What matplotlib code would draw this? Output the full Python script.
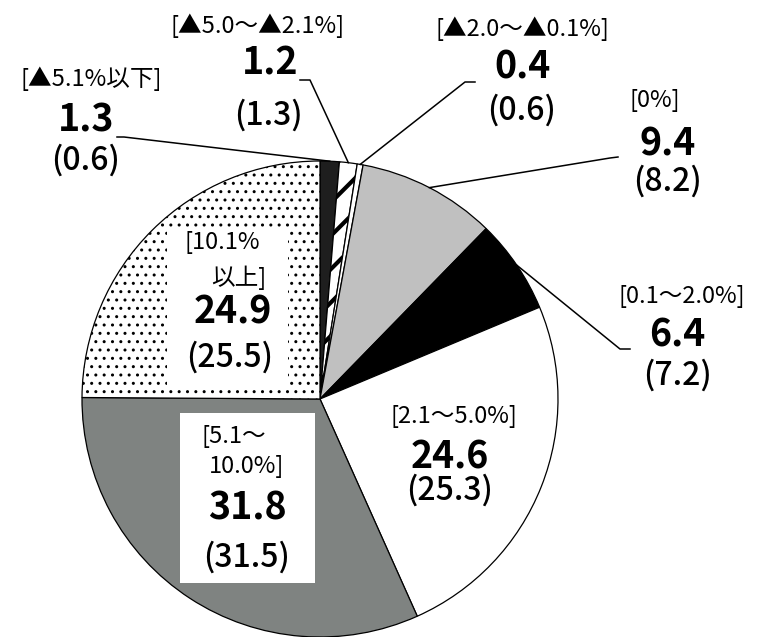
import numpy as np
import matplotlib.pyplot as plt
from matplotlib.patches import Rectangle

plt.rcParams['font.family'] = ['Noto Sans CJK JP', 'DejaVu Sans']
plt.rcParams['hatch.linewidth'] = 1.0

# data (current share, previous share in parentheses)
categories = ['[▲5.1%以下]', '[▲5.0～▲2.1%]', '[▲2.0～▲0.1%]', '[0%]',
              '[0.1～2.0%]', '[2.1～5.0%]', '[5.1～\n10.0%]', '[10.1%\n以上]']
values = [1.3, 1.2, 0.4, 9.4, 6.4, 24.6, 31.8, 24.9]
previous = [0.6, 1.3, 0.6, 8.2, 7.2, 25.3, 31.5, 25.5]

colors = ['#1e1e1e', 'white', 'white', '#c0c0c0', 'black', 'white', '#7f8381', 'white']
hatches = ['', '/', '', '', '', '', '', '..']

W, H = 762, 637
cx, cy, r = 320, H - 399, 238

# label layout in pixel coords (x, y from top)
cat_xy = [[(91, 79)], [(258, 26)], [(522, 29)], [(655, 101)], [(682, 297)],
          [(454, 417)], [(234, 436), (247, 467)], [(222, 243), (239, 278)]]
val_xy = [(86, 120), (270, 63), (523, 67), (668, 144), (677, 335),
          (450, 457), (247, 508), (233, 312)]
prev_xy = [(86, 160), (268, 115), (522, 110), (667, 181), (677, 375),
           (450, 490), (247, 557), (230, 357)]
leader_xy = [[(117, 137), (124, 137)], [(300, 80), (310, 80)],
             [(475, 82), (465, 82)], [(618, 157), (610, 158)],
             [(630, 349), (620, 349)]]
boxes = [(167, 230, 288, 385), (180, 413, 315, 583)]

fig = plt.figure(figsize=(W / 100, H / 100), dpi=100)
ax = fig.add_axes([0, 0, 1, 1])
wedges, _ = ax.pie(values, colors=colors, hatch=hatches, startangle=90,
                   counterclock=False, center=(cx, cy), radius=r,
                   wedgeprops=dict(edgecolor='black', linewidth=0.9))
w = wedges[1]
if hasattr(w, 'set_hatch_linewidth'):
    w.set_hatch_linewidth(3.0)
else:
    w._hatch_linewidth = 3.0

ax.set_xlim(0, W)
ax.set_ylim(0, H)
ax.set_aspect('auto')
ax.axis('off')

for x0, y0, x1, y1 in boxes:
    ax.add_patch(Rectangle((x0, H - y1), x1 - x0, y1 - y0, facecolor='white',
                           edgecolor='none', zorder=3))

for i, name in enumerate(categories):
    for line, (x, y) in zip(name.split('\n'), cat_xy[i]):
        ax.text(x, H - y, line, fontsize=17, ha='center', va='center', zorder=5)
    x, y = val_xy[i]
    ax.text(x, H - y, f'{values[i]:.1f}', fontsize=27, fontweight='bold',
            ha='center', va='center', zorder=5)
    x, y = prev_xy[i]
    ax.text(x, H - y, f'({previous[i]:.1f})', fontsize=23, fontweight='medium',
            ha='center', va='center', zorder=5)

# leader lines to the small / outer slices
for i, pts in enumerate(leader_xy):
    wd = wedges[i]
    mid = np.deg2rad((wd.theta1 + wd.theta2) / 2)
    px, py = cx + r * np.cos(mid), cy + r * np.sin(mid)
    xs = [pts[0][0], pts[1][0], px]
    ys = [H - pts[0][1], H - pts[1][1], py]
    ax.plot(xs, ys, color='black', linewidth=1.1, zorder=4)

fig.savefig('out.png', dpi=100)
